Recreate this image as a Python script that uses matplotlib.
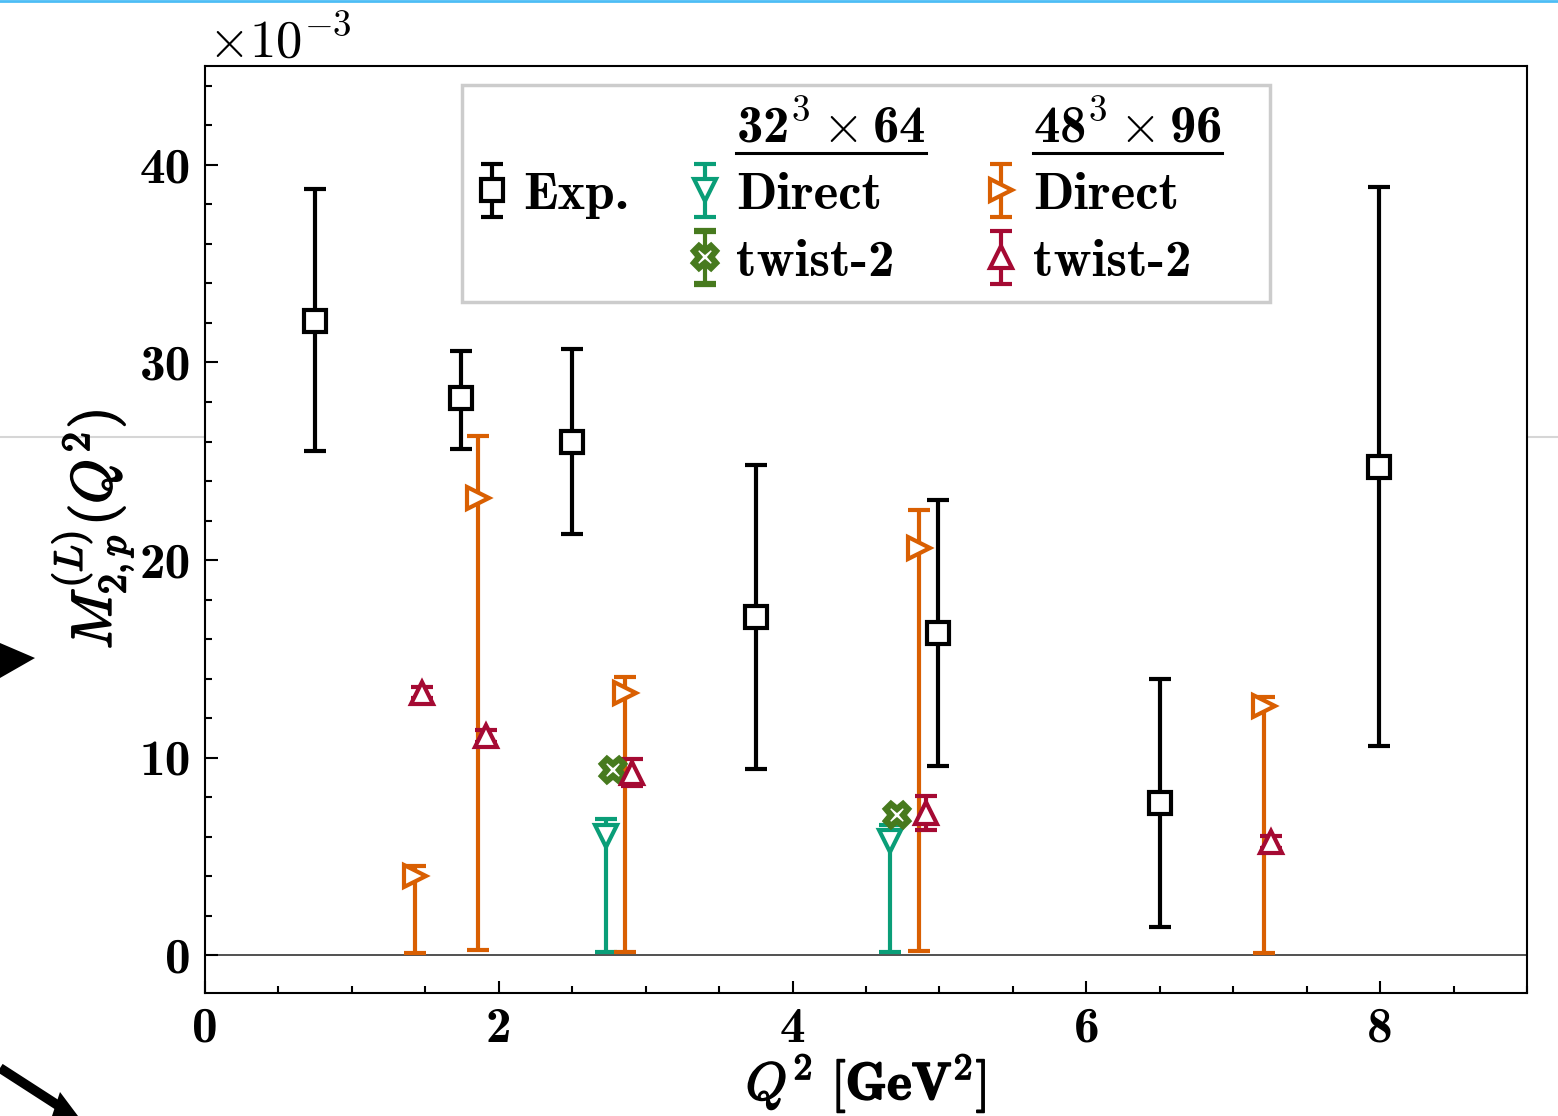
import numpy as np
import matplotlib
matplotlib.use("Agg")
import matplotlib.pyplot as plt
import matplotlib.patheffects as pe
from matplotlib.lines import Line2D
from matplotlib.patches import Polygon, Rectangle
from matplotlib.ticker import MultipleLocator

plt.rcParams['font.family'] = ['cmb10', 'DejaVu Serif']
plt.rcParams['mathtext.fontset'] = 'cm'
plt.rcParams['axes.unicode_minus'] = False

# all values in units of 1e-3
exp_q2 = [0.75, 1.74, 2.50, 3.75, 4.99, 6.50, 7.99]
exp_val = [32.1, 28.2, 26.0, 17.1, 16.3, 7.7, 24.7]
exp_lo = [25.5, 25.6, 21.3, 9.45, 9.6, 1.45, 10.6]
exp_hi = [38.8, 30.6, 30.7, 24.8, 23.05, 14.0, 38.9]

# 32^3 x 64 lattice
d32_q2 = [2.73, 4.66]
d32_val = [6.05, 5.78]
d32_lo = [0.15, 0.15]
d32_hi = [6.9, 6.6]

t32_q2 = [2.78, 4.71]
t32_val = [9.4, 7.1]
t32_err = [0.3, 0.3]

# 48^3 x 96 lattice
d48_q2 = [1.43, 1.86, 2.86, 4.86, 7.21]
d48_val = [4.0, 23.15, 13.3, 20.6, 12.6]
d48_lo = [0.1, 0.3, 0.15, 0.2, 0.1]
d48_hi = [4.55, 26.3, 14.1, 22.55, 13.1]

t48_q2 = [1.48, 1.91, 2.91, 4.91, 7.26]
t48_val = [13.3, 11.1, 9.25, 7.2, 5.75]
t48_err = [0.3, 0.3, 0.7, 0.87, 0.3]

c_exp = 'black'
c_d32 = '#0a9e78'
c_t32 = '#477a1e'
c_d48 = '#d95f02'
c_t48 = '#a50a33'

W, H = 1558, 1116


def asym(val, lo, hi):
    val = np.array(val)
    return [val - np.array(lo), np.array(hi) - val]


def px(pts):
    # pixel coords (from top-left) -> figure fraction
    return [(x / W, 1 - y / H) for x, y in pts]


fig = plt.figure(figsize=(W / 100, H / 100), dpi=100)

# screenshot leftovers around the figure
fig.add_artist(Line2D([0, 1], [1 - 437 / H] * 2, color='#d6d6d6', lw=1.5, zorder=-5))
fig.add_artist(Line2D([0, 1], [0.999, 0.999], color='#4dbdf5', lw=2, zorder=-5))
fig.add_artist(Polygon(px([(0, 643), (35, 658), (0, 678)]), closed=True,
                       color='black', lw=0, zorder=-4))
fig.add_artist(Line2D(*zip(*px([(0, 1068), (62, 1108)])), color='black', lw=7,
                      solid_capstyle='butt', zorder=-4))
fig.add_artist(Polygon(px([(60, 1092), (78, 1116), (52, 1116)]), closed=True,
                       color='black', lw=0, zorder=-4))

ax = fig.add_axes([205 / W, 1 - 993 / H, (1527 - 205) / W, (993 - 66) / H])

kw = dict(ls='none', capsize=8, capthick=3, elinewidth=3, markersize=16, mew=3, mfc='white')

ax.axhline(0, color='#333333', lw=1.2, zorder=0)

h_exp = ax.errorbar(exp_q2, exp_val, yerr=asym(exp_val, exp_lo, exp_hi), color=c_exp,
                    marker='s', zorder=3, **kw)
h_d32 = ax.errorbar(d32_q2, d32_val, yerr=asym(d32_val, d32_lo, d32_hi), color=c_d32,
                    marker='v', zorder=3, **kw)
h_d48 = ax.errorbar(d48_q2, d48_val, yerr=asym(d48_val, d48_lo, d48_hi), color=c_d48,
                    marker='>', zorder=3, **kw)
kw_x = dict(kw, mew=4.5)
h_t32 = ax.errorbar(t32_q2, t32_val, yerr=t32_err, color=c_t32,
                    marker='X', zorder=4, **kw_x)
h_t48 = ax.errorbar(t48_q2, t48_val, yerr=t48_err, color=c_t48,
                    marker='^', zorder=4, **kw)

ax.set_xlim(0, 9)
ax.set_ylim(-1.9, 45)
ax.xaxis.set_major_locator(MultipleLocator(2))
ax.xaxis.set_minor_locator(MultipleLocator(0.5))
ax.yaxis.set_major_locator(MultipleLocator(10))
ax.yaxis.set_minor_locator(MultipleLocator(2))
ax.tick_params(which='both', direction='in', labelsize=37, width=1.5)
ax.tick_params(which='major', length=9, pad=10)
ax.tick_params(which='minor', length=5)
for s in ax.spines.values():
    s.set_linewidth(1.5)

ax.text(0.002, 1.01, r'$\times10^{-3}$', transform=ax.transAxes, fontsize=38,
        ha='left', va='baseline')

stroke = [pe.withStroke(linewidth=1.2, foreground='black')]
ax.set_xlabel(r'$Q^2\ [\mathbf{GeV}^2]$', fontsize=38, labelpad=0, path_effects=stroke)
ax.set_ylabel(r'$M_{2,p}^{(L)}(Q^2)$', fontsize=41, labelpad=3, path_effects=stroke)

blank = Line2D([], [], ls='none')
handles = [blank, h_exp, blank, blank, h_d32, h_t32, blank, h_d48, h_t48]
labels = ['', 'Exp.', '',
          r'32$^3\times$64', 'Direct', 'twist-2',
          r'48$^3\times$96', 'Direct', 'twist-2']
leg = ax.legend(handles, labels, ncol=3, loc='upper left', bbox_to_anchor=(0.197, 0.9795),
                borderaxespad=0, fontsize=38, frameon=False, handlelength=0.4,
                handletextpad=0.4, columnspacing=1.22, labelspacing=0.38, borderpad=0.3)

# legend frame drawn by hand, it is wider than the entries
box = Rectangle((462 / W, 1 - 302 / H), (1270 - 462) / W, (302 - 85) / H,
                transform=fig.transFigure, facecolor='white', edgecolor='#cccccc',
                lw=2.5, zorder=4.5, clip_on=False)
ax.add_patch(box)

fig.canvas.draw()
r = fig.canvas.get_renderer()
inv = fig.transFigure.inverted()
for t in (leg.get_texts()[3], leg.get_texts()[6]):
    bb = t.get_window_extent(r)
    (x0, y0), (x1, _) = inv.transform([(bb.x0, bb.y0 - 1), (bb.x1, bb.y0)])
    fig.add_artist(Line2D([x0, x1], [y0, y0], color='black', lw=2.2, zorder=10))

fig.savefig('out.png', dpi=100)
